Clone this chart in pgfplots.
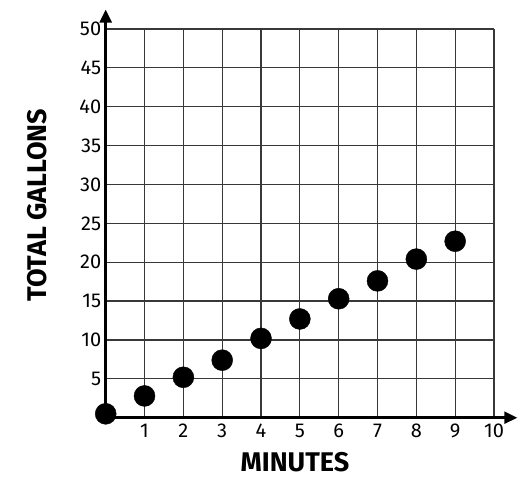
\documentclass[border=0pt]{standalone}
\usepackage{pgfplots}
\pgfplotsset{compat=1.18}
\usepackage{fontspec}
\setmainfont{Fira Sans}
\usetikzlibrary{arrows.meta}
\begin{document}
\begin{tikzpicture}
\useasboundingbox (-105.7pt,-66.3pt) rectangle (426.3pt,417.7pt);
\begin{axis}[
  scale only axis, width=388.3pt, height=388.7pt,
  xmin=0, xmax=10, ymin=0, ymax=50,
  clip=false,
  axis lines=left,
  axis line style={draw=none},
  xtick={1,...,10}, ytick={5,10,...,50},
  grid=major, grid style={line width=1.25pt, color=black!78},
  major tick length=0pt,
  tick label style={font=\fontsize{20}{20}\selectfont},
  xticklabel style={yshift=-3pt},
  yticklabel style={xshift=-1pt},
  /pgf/number format/assume math mode=true,
  xlabel={MINUTES}, ylabel={TOTAL GALLONS},
  every axis x label/.style={at={(axis description cs:0.4875,-0.114)}, anchor=center, font=\bfseries\fontsize{27}{27}\selectfont},
  every axis y label/.style={at={(axis description cs:-0.177,0.547)}, rotate=90, anchor=center, font=\bfseries\fontsize{27}{27}\selectfont},
]
\draw[line width=2.6pt, -{Triangle[length=13pt,width=12pt]}] (axis cs:0,0) -- (axis cs:10.6,0);
\draw[line width=2.6pt, -{Triangle[length=13pt,width=12pt]}] (axis cs:0,0) -- (axis cs:0,52.5);
\addplot[only marks, mark=*, mark size=10.5pt, black] coordinates {
  (0,0.5) (1,2.8) (2,5.2) (3,7.4) (4,10.2) (5,12.7) (6,15.3) (7,17.6) (8,20.4) (9,22.7)
};
\end{axis}
\end{tikzpicture}
\end{document}
